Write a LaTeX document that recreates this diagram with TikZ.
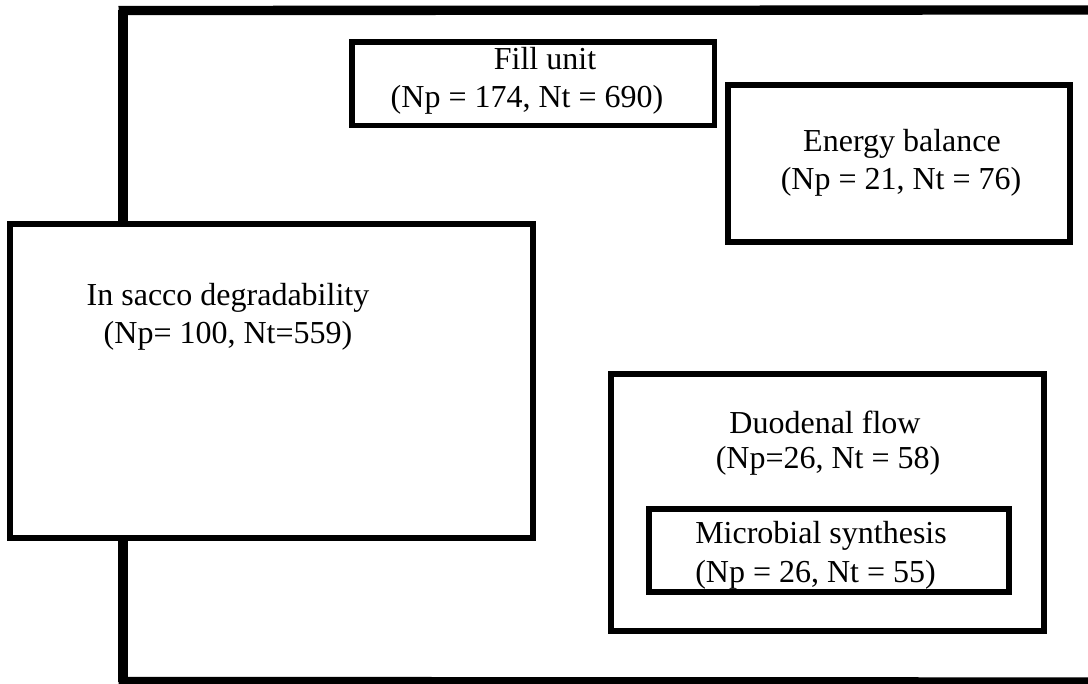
\documentclass[tikz,border=0pt]{standalone}
\usepackage{fontspec}
\setmainfont{Liberation Serif}
\begin{document}
\begin{tikzpicture}[x=0.75pt,y=-0.75pt,
  box/.style={draw=black,rectangle,line width=4pt,inner sep=0pt,fill=none},
  frame/.style={draw=black,line width=7pt},
  lbl/.style={inner sep=0pt,anchor=base,font=\fontsize{24}{28}\selectfont},
  lbll/.style={inner sep=0pt,anchor=base west,font=\fontsize{24}{28}\selectfont}]
\useasboundingbox (0,0) rectangle (1088,684);
\fill[white] (0,0) rectangle (1088,684);
% boxes
\node[box,minimum width=362.5pt*0.75,minimum height=83.5pt*0.75] (fill) at (533.25,83.75) {};
\node[box,minimum width=342pt*0.75,minimum height=157pt*0.75] (energy) at (899,163.5) {};
\node[box,minimum width=523pt*0.75,minimum height=314pt*0.75] (sacco) at (271.5,381) {};
\node[box,minimum width=433pt*0.75,minimum height=257pt*0.75] (duo) at (827.5,502.5) {};
\node[box,minimum width=360pt*0.75,minimum height=83pt*0.75] (micro) at (829,550.5) {};
% outer frame
\coordinate (tl) at (123,10);
\coordinate (tr) at (1092,10);
\coordinate (bl) at (123,682);
\coordinate (br) at (1092,682);
\draw[frame] (sacco.north -| tl) -- (tl);
\draw[frame] (118.5,10.5) -- (tr);
\draw[frame] (sacco.south -| bl) -- (bl);
\draw[frame] (118.5,681.5) -- (br);
% texts
\node[lbl] (t1) at (545,70) {Fill unit};
\node[lbl] (t2) at (527,108) {(Np = 174, Nt = 690)};
\node[lbl] (t3) at (902,152) {Energy balance};
\node[lbl] (t4) at (901,190) {(Np = 21, Nt = 76)};
\node[lbl] (t5) at (228,305) {In sacco degradability};
\node[lbl] (t6) at (228,343) {(Np= 100, Nt=559)};
\node[lbl] (t7) at (825,433) {Duodenal flow};
\node[lbl] (t8) at (828,468) {(Np=26, Nt = 58)};
\node[lbll] (t9) at (695,543) {Microbial synthesis};
\node[lbll] (t10) at (695,582) {(Np = 26, Nt = 55)};
\end{tikzpicture}
\end{document}
